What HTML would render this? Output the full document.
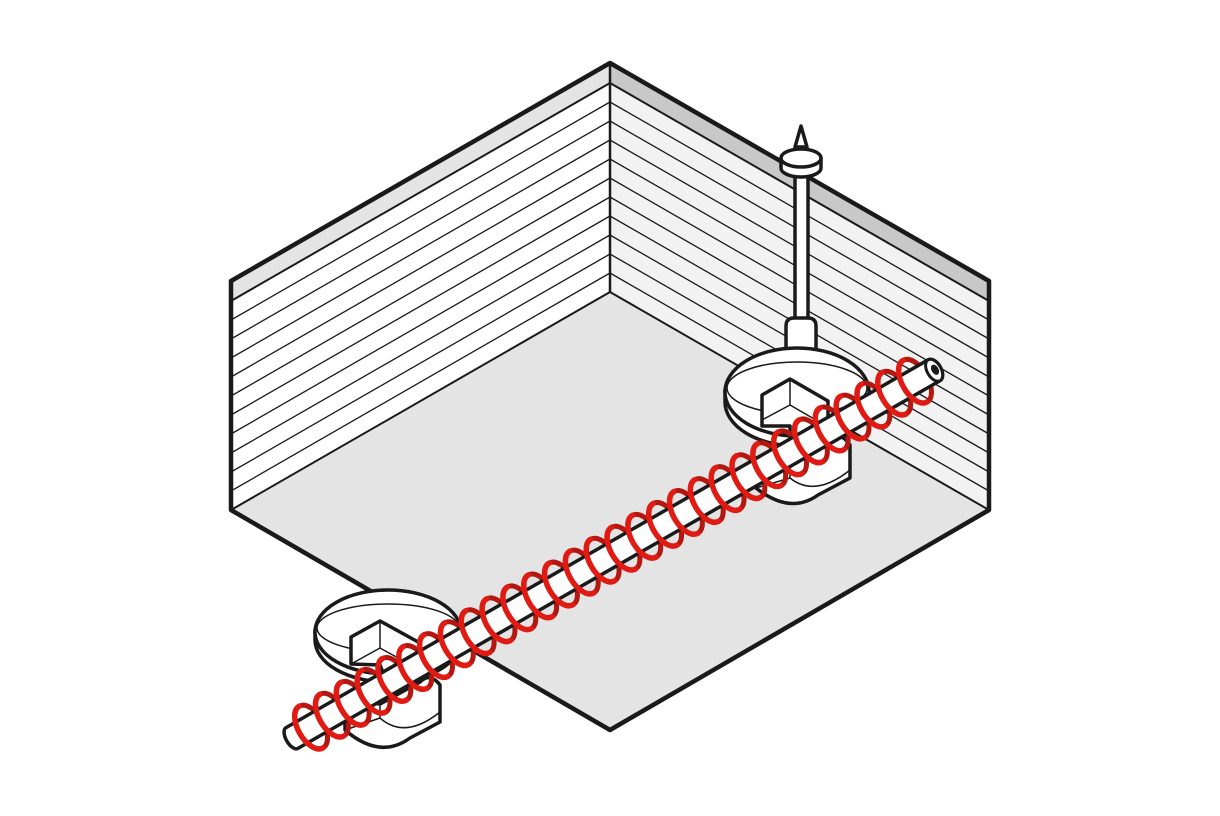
<!DOCTYPE html>
<html><head><meta charset="utf-8"><style>html,body{margin:0;padding:0;background:#fff}svg{display:block}</style></head>
<body>
<svg width="1220" height="816" viewBox="0 0 1220 816" xmlns="http://www.w3.org/2000/svg">
<defs>
<path id="bk" d="M0,24 A13 24 0 0 0 0,-24" fill="none" stroke="#b3170f" stroke-width="5" stroke-linecap="round"/>
<path id="fr" d="M0,-24 A13 24 0 0 0 0,24" fill="none" stroke="#e01b14" stroke-width="5.5" stroke-linecap="round"/>
</defs>
<polygon points="231,510 610,292 989,510 610,730" fill="#e4e4e4"/>
<polygon points="231,281 610,63 610,292 231,510" fill="#fff"/>
<polygon points="231,281 610,63 610,83 231,301" fill="#e4e4e4"/>
<polygon points="610,63 989,281 989,510 610,292" fill="#f2f2f2"/>
<polygon points="610,63 989,281 989,301 610,83" fill="#c8c8c8"/>
<g stroke="#1a1a1a" stroke-width="1.3">
<line x1="231" y1="301" x2="610" y2="83" stroke-width="2"/><line x1="989" y1="301" x2="610" y2="83" stroke-width="2"/>
<line x1="231" y1="320" x2="610" y2="102"/><line x1="989" y1="320" x2="610" y2="102"/>
<line x1="231" y1="339" x2="610" y2="121"/><line x1="989" y1="339" x2="610" y2="121"/>
<line x1="231" y1="358" x2="610" y2="140"/><line x1="989" y1="358" x2="610" y2="140"/>
<line x1="231" y1="377" x2="610" y2="159"/><line x1="989" y1="377" x2="610" y2="159"/>
<line x1="231" y1="396" x2="610" y2="178"/><line x1="989" y1="396" x2="610" y2="178"/>
<line x1="231" y1="415" x2="610" y2="197"/><line x1="989" y1="415" x2="610" y2="197"/>
<line x1="231" y1="434" x2="610" y2="216"/><line x1="989" y1="434" x2="610" y2="216"/>
<line x1="231" y1="453" x2="610" y2="235"/><line x1="989" y1="453" x2="610" y2="235"/>
<line x1="231" y1="472" x2="610" y2="254"/><line x1="989" y1="472" x2="610" y2="254"/>
<line x1="231" y1="491" x2="610" y2="273"/><line x1="989" y1="491" x2="610" y2="273"/>
<line x1="610" y1="63" x2="610" y2="292" stroke-width="2.5"/>
<line x1="231" y1="510" x2="610" y2="292" stroke-width="2"/><line x1="989" y1="510" x2="610" y2="292" stroke-width="2"/>
</g>
<polygon points="231,281 610,63 989,281 989,510 610,730 231,510" fill="none" stroke="#1a1a1a" stroke-width="4.5" stroke-linejoin="round"/>

<g stroke="#1a1a1a" stroke-width="3.5" fill="#fff" stroke-linejoin="round">
<rect x="795" y="160" width="13" height="165"/>
<path d="M786,352 L786,326 Q786,318 794,318 L808,318 Q816,318 816,326 L816,352 Z"/>
<path d="M781,158 L781,168 A20 9 0 0 0 821,168 L821,158 Z"/>
<ellipse cx="801" cy="158" rx="20" ry="9"/>
<path d="M795,147 L801,126 L807,147 Z"/>
</g>

<g stroke="#1a1a1a" stroke-width="3.5" fill="#fff" stroke-linejoin="round">
<path d="M725,390 L725,402 A72 44 0 0 0 869,402 L869,390 Z"/>
<ellipse cx="797" cy="392" rx="72" ry="44"/>
<ellipse cx="797" cy="388" rx="70" ry="26" fill="none" stroke-width="1.5"/>
<path d="M762,395 L790,379 L828,401 L828,440 L800,456 Q790,456 790,446 L790,426 L762,426 Z"/>
<path d="M756,458 L756,488 Q790,515 818,495 L850,478 L850,445 Q840,430 828,440 L790,462 Z"/>
<path d="M790,379 L790,405 L762,420 M790,405 L828,427" fill="none" stroke-width="1.5"/>
<path d="M790,462 L790,478 L756,488 M790,478 Q815,498 850,470" fill="none" stroke-width="1.5"/>
</g>
<g stroke="#1a1a1a" stroke-width="3.5" fill="#fff" stroke-linejoin="round">
<path d="M315,630 L315,640 A73 42 0 0 0 461,640 L461,630 Z"/>
<ellipse cx="388" cy="632" rx="73" ry="42"/>
<ellipse cx="388" cy="628" rx="71" ry="24" fill="none" stroke-width="1.5"/>
<path d="M351,637 L380,621 L420,643 L420,688 L405,700 Q395,700 390,690 L380,665 L351,664 Z"/>
<path d="M345,700 L345,730 Q380,760 410,738 L440,722 L440,685 Q430,672 420,682 L380,704 Z"/>
<path d="M380,621 L380,648 L351,664 M380,648 L420,670" fill="none" stroke-width="1.5"/>
<path d="M380,704 L380,718 L345,730 M380,718 Q405,740 440,712" fill="none" stroke-width="1.5"/>
</g>

<g transform="translate(292,738) rotate(-29.8)">
<g>
<use href="#bk" x="22"/><use href="#bk" x="46"/><use href="#bk" x="70"/><use href="#bk" x="94"/><use href="#bk" x="118"/><use href="#bk" x="142"/><use href="#bk" x="166"/><use href="#bk" x="190"/><use href="#bk" x="214"/><use href="#bk" x="238"/><use href="#bk" x="262"/><use href="#bk" x="286"/><use href="#bk" x="310"/><use href="#bk" x="334"/><use href="#bk" x="358"/><use href="#bk" x="382"/><use href="#bk" x="406"/><use href="#bk" x="430"/><use href="#bk" x="454"/><use href="#bk" x="478"/><use href="#bk" x="502"/><use href="#bk" x="526"/><use href="#bk" x="550"/><use href="#bk" x="574"/><use href="#bk" x="598"/><use href="#bk" x="622"/><use href="#bk" x="646"/><use href="#bk" x="670"/><use href="#bk" x="694"/><use href="#bk" x="718"/>
</g>
<path d="M0,-12 L740,-12 A7 12 0 0 1 740,12 L0,12 A6 12 0 0 1 0,-12 Z" fill="#fff" stroke="#1a1a1a" stroke-width="3.5"/>
<ellipse cx="740" cy="0" rx="7" ry="12" fill="#fff" stroke="#1a1a1a" stroke-width="3"/>
<ellipse cx="741" cy="0" rx="3.5" ry="5.5" fill="#1a1a1a"/>
<g>
<use href="#fr" x="22"/><use href="#fr" x="46"/><use href="#fr" x="70"/><use href="#fr" x="94"/><use href="#fr" x="118"/><use href="#fr" x="142"/><use href="#fr" x="166"/><use href="#fr" x="190"/><use href="#fr" x="214"/><use href="#fr" x="238"/><use href="#fr" x="262"/><use href="#fr" x="286"/><use href="#fr" x="310"/><use href="#fr" x="334"/><use href="#fr" x="358"/><use href="#fr" x="382"/><use href="#fr" x="406"/><use href="#fr" x="430"/><use href="#fr" x="454"/><use href="#fr" x="478"/><use href="#fr" x="502"/><use href="#fr" x="526"/><use href="#fr" x="550"/><use href="#fr" x="574"/><use href="#fr" x="598"/><use href="#fr" x="622"/><use href="#fr" x="646"/><use href="#fr" x="670"/><use href="#fr" x="694"/><use href="#fr" x="718"/>
</g>
</g>
</svg>
</body></html>
